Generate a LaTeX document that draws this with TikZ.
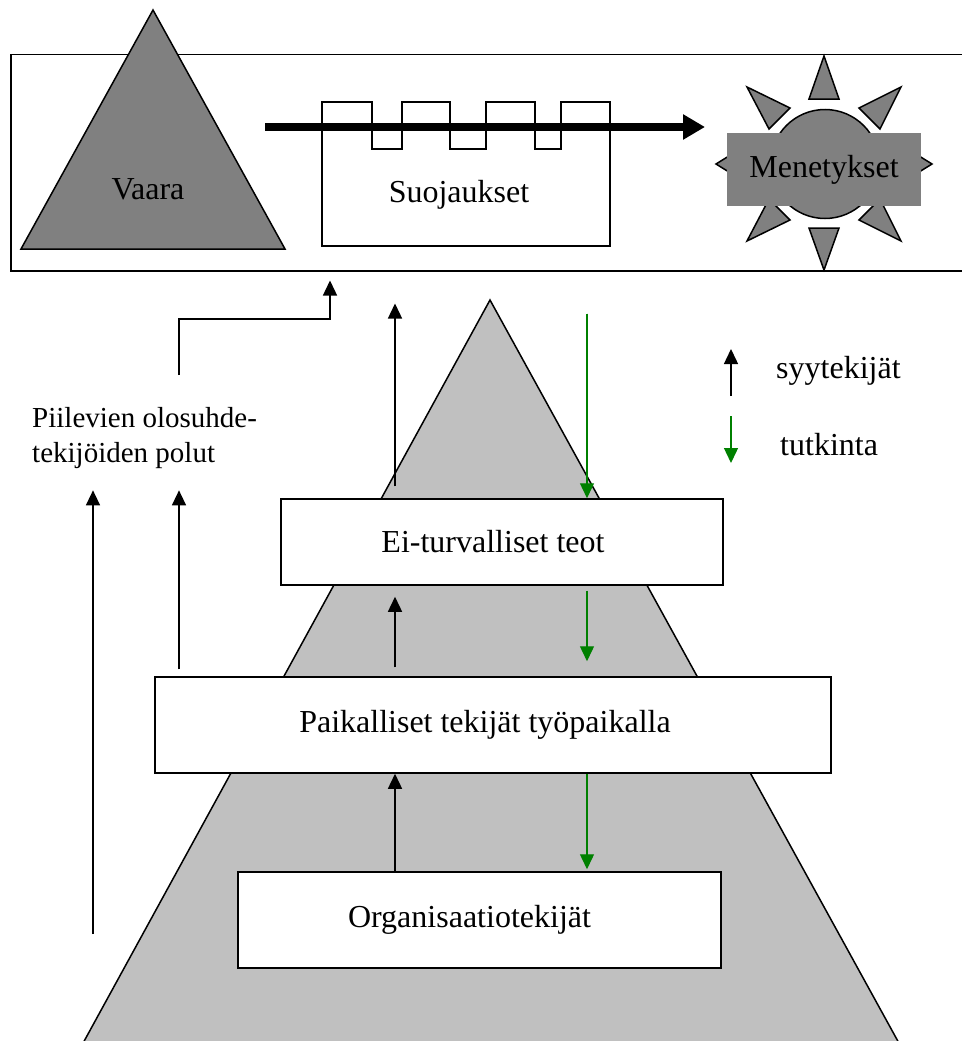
\documentclass[tikz,border=0pt]{standalone}
\usepackage{fontspec}
\setmainfont{Liberation Serif}
\usetikzlibrary{arrows.meta}
\definecolor{hazardgray}{HTML}{808080}
\definecolor{pyramidgray}{HTML}{C0C0C0}
\definecolor{probegreen}{HTML}{008000}

\begin{document}
\begin{tikzpicture}[x=1pt,y=-1pt,
  every node/.style={font=\fontsize{32}{36}\selectfont, inner sep=0pt},
  outline/.style={draw=black, line width=1.5pt, line join=miter},
  level/.style={outline, fill=white},
  ray/.style={outline, fill=hazardgray},
  cause/.style={draw=black, line width=1.4pt, -{Triangle[length=15pt,width=14pt]}},
  probe/.style={draw=probegreen, fill=probegreen, line width=1.4pt, -{Triangle[length=15pt,width=14pt]}},
  trajectory/.style={draw=black, line width=8pt, -{Triangle[length=22pt,width=24pt]}},
]
\useasboundingbox (0,0) rectangle (961,1041);

% background pyramid of organisational layers
\filldraw[fill=pyramidgray, draw=black, line width=1.5pt]
  (490,300) -- (900,1045) -- (82,1045) -- cycle;

% accident frame
\node[outline, minimum width=954pt, minimum height=216pt, anchor=north west] (frame) at (10,54) {};

% hazard
\draw[ray] (153,10) -- (285,249) -- (21,249) -- cycle;
\node (vaara) at (148,189) {Vaara};

% defences (crenellated barrier)
\draw[level] (322,246) -- (322,102) -- (372,102) -- (372,149) -- (402,149)
  -- (402,102) -- (450,102) -- (450,149) -- (486,149) -- (486,102)
  -- (535,102) -- (535,149) -- (561,149) -- (561,102) -- (610,102)
  -- (610,246) -- cycle;
\node (defences) at (459,195) {Suojaukset};

% accident trajectory
\coordinate (trajstart) at (265,127);
\coordinate (trajend) at (705,127);
\draw[trajectory] (trajstart) -- (trajend);

% losses (sun shape)
\draw[ray] (809,99) -- (839,99) -- (824,56) -- cycle;
\draw[ray] (809,228) -- (839,228) -- (824,270) -- cycle;
\draw[ray] (747,87) -- (790,108) -- (769,129) -- cycle;
\draw[ray] (901,87) -- (859,108) -- (880,129) -- cycle;
\draw[ray] (747,241) -- (790,220) -- (769,199) -- cycle;
\draw[ray] (901,241) -- (859,220) -- (880,199) -- cycle;
\draw[ray] (716,164) -- (745,146) -- (745,182) -- cycle;
\draw[ray] (932,164) -- (903,146) -- (903,182) -- cycle;
\draw[ray] (825,164) circle[radius=54.5];
\node[fill=hazardgray, minimum width=194pt, minimum height=73pt] (loss) at (824,169.5) {Menetykset};

% layers
\node[level, minimum width=442pt, minimum height=86pt] (acts) at (502,542) {\kern-18pt Ei-turvalliset teot};
\node[level, minimum width=676pt, minimum height=96pt] (local) at (493,725) {\kern-16pt Paikalliset tekijät työpaikalla};
\node[level, minimum width=483pt, minimum height=96pt] (org) at (479.5,920) {\kern-20pt Organisaatiotekijät};

% latent condition pathways
\node[anchor=west, align=left, font=\fontsize{29}{35}\selectfont] (latent) at (32,438.5) {Piilevien olosuhde-\\tekijöiden polut};

% columns for the vertical connectors
\coordinate (colA) at (93,0);
\coordinate (colB) at (179,0);
\coordinate (upcol) at (395,0);
\coordinate (downcol) at (587,0);
\coordinate (orgfoot) at (93,934);
\coordinate (bendstart) at (179,375);
\coordinate (elbow) at (330,319);

% causal chain (upwards)
\draw[cause] (org.north -| upcol) -- (local.south -| upcol);
\draw[cause, shorten <=9pt, shorten >=11pt] (local.north -| upcol) -- (acts.south -| upcol);
\draw[cause, shorten <=12pt, shorten >=32pt] (acts.north -| upcol) -- (frame.south -| upcol);
\draw[cause, shorten >=21pt] (orgfoot) -- (latent.south -| colA);
\draw[cause, shorten <=7pt, shorten >=21pt] (local.north -| colB) -- (latent.south -| colB);
\draw[cause, shorten >=9pt] (bendstart) |- (elbow) -- (frame.south -| elbow);

% investigation (downwards)
\draw[probe, shorten <=42pt] (frame.south -| downcol) -- (acts.north -| downcol);
\draw[probe, shorten <=5pt, shorten >=15pt] (acts.south -| downcol) -- (local.north -| downcol);
\draw[probe, shorten >=2pt] (local.south -| downcol) -- (org.north -| downcol);

% legend
\coordinate (keycausefoot) at (731,396);
\coordinate (keycausetip) at (731,349);
\coordinate (keyprobetop) at (731,416);
\coordinate (keyprobetip) at (731,463);
\draw[cause] (keycausefoot) -- (keycausetip);
\node[anchor=base west] (keycause) at (776,378) {syytekijät};
\draw[probe] (keyprobetop) -- (keyprobetip);
\node[anchor=base west] (keyprobe) at (780,455) {tutkinta};
\end{tikzpicture}
\end{document}
